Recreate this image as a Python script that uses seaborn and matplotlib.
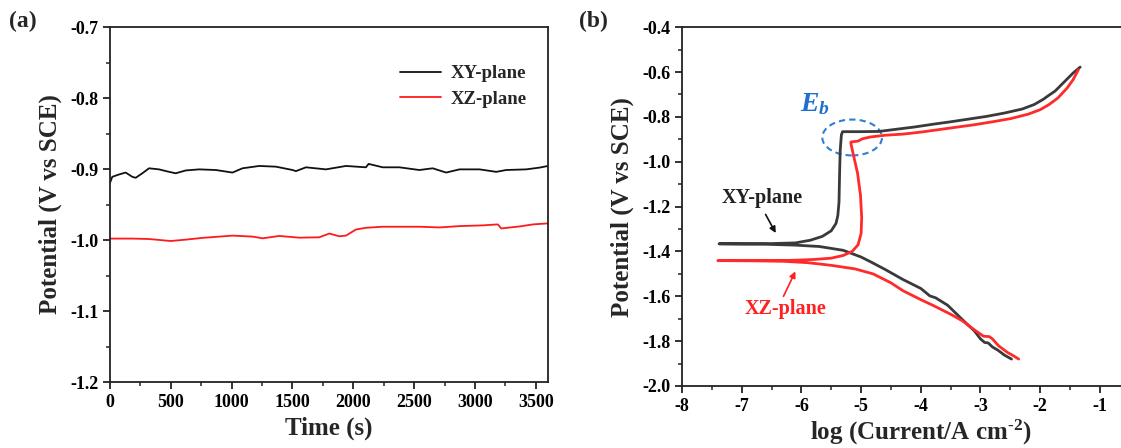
import numpy as np
import pandas as pd
import matplotlib
matplotlib.use("Agg")
import matplotlib.pyplot as plt
from matplotlib.patches import Ellipse
from matplotlib.ticker import MultipleLocator, FixedLocator, FormatStrFormatter
import seaborn as sns

# ---------------- (a) open-circuit potential vs time ----------------
ocp_time_xy = [0, 19, 74, 129, 184, 211, 266, 321, 403, 486, 541, 623, 733, 870, 1007,
               1089, 1227, 1364, 1501, 1528, 1611, 1775, 1940, 2104, 2126, 2242, 2379,
               2543, 2653, 2763, 2873, 3038, 3175, 3257, 3422, 3532, 3600]
ocp_xy = [-0.9196, -0.911, -0.9077, -0.905, -0.911, -0.9124, -0.906, -0.899, -0.9005,
          -0.904, -0.906, -0.902, -0.9005, -0.9014, -0.905, -0.899, -0.8957, -0.8967,
          -0.9014, -0.903, -0.8976, -0.9005, -0.8957, -0.8976, -0.8928, -0.8976, -0.8976,
          -0.9014, -0.899, -0.905, -0.9005, -0.9005, -0.904, -0.9014, -0.9005, -0.898,
          -0.8957]

ocp_time_xz = [0, 184, 321, 499, 623, 760, 1007, 1172, 1254, 1391, 1556, 1720, 1803, 1885,
               1940, 2022, 2104, 2242, 2379, 2543, 2708, 2873, 3065, 3188, 3216, 3367,
               3477, 3600]
ocp_xz = [-0.998, -0.998, -0.9986, -1.0014, -0.9995, -0.997, -0.9938, -0.9952, -0.9976,
          -0.9943, -0.9967, -0.9962, -0.9909, -0.9947, -0.9938, -0.9852, -0.9828, -0.9813,
          -0.9813, -0.9813, -0.9823, -0.9804, -0.9794, -0.978, -0.9837, -0.9809, -0.978,
          -0.9766]

# ---------------- (b) potentiodynamic polarization curves ----------------
logi_xy = [-2.48, -2.60, -2.71, -2.80, -2.87, -2.93, -3.00, -3.10, -3.30, -3.55, -3.75,
           -3.85, -4.00, -4.30, -4.60, -4.85, -5.00, -5.30, -5.70, -6.10, -6.60, -7.00,
           -7.38, -7.00, -6.50, -6.10, -5.85, -5.65, -5.50, -5.42, -5.39, -5.37, -5.36,
           -5.35, -5.33, -5.31, -5.00, -4.70, -4.40, -4.10, -3.80, -3.50, -3.20, -2.90,
           -2.60, -2.30, -2.10, -1.95, -1.85, -1.75, -1.60, -1.45, -1.33]
pot_xy = [-1.880, -1.862, -1.840, -1.826, -1.808, -1.806, -1.790, -1.755, -1.705, -1.640,
          -1.607, -1.598, -1.565, -1.525, -1.480, -1.445, -1.425, -1.395, -1.378, -1.372,
          -1.368, -1.367, -1.366, -1.366, -1.365, -1.362, -1.350, -1.333, -1.308, -1.275,
          -1.240, -1.180, -1.050, -0.950, -0.880, -0.866, -0.866, -0.865, -0.855, -0.845,
          -0.833, -0.822, -0.810, -0.798, -0.783, -0.765, -0.745, -0.722, -0.703, -0.685,
          -0.645, -0.605, -0.578]

logi_xz = [-2.36, -2.45, -2.55, -2.70, -2.80, -2.85, -2.95, -3.10, -3.30, -3.50, -3.80,
           -4.00, -4.30, -4.50, -4.80, -5.10, -5.50, -5.90, -6.30, -6.80, -7.40, -6.80,
           -6.20, -5.80, -5.50, -5.30, -5.15, -5.05, -5.00, -4.99, -5.01, -5.06, -5.12,
           -5.17, -5.17, -5.05, -4.98, -4.85, -4.60, -4.30, -4.00, -3.70, -3.40, -3.10,
           -2.80, -2.50, -2.20, -2.00, -1.85, -1.70, -1.55, -1.45, -1.36]
pot_xz = [-1.880, -1.865, -1.850, -1.820, -1.790, -1.780, -1.778, -1.750, -1.710, -1.680,
          -1.640, -1.615, -1.575, -1.540, -1.500, -1.478, -1.462, -1.450, -1.444, -1.442,
          -1.441, -1.441, -1.440, -1.436, -1.430, -1.418, -1.400, -1.370, -1.320, -1.250,
          -1.150, -1.050, -0.980, -0.920, -0.912, -0.908, -0.898, -0.890, -0.882, -0.877,
          -0.868, -0.857, -0.846, -0.835, -0.822, -0.808, -0.788, -0.768, -0.745, -0.715,
          -0.672, -0.635, -0.590]

series_names = ["XY-plane", "XZ-plane"]
logi_ticks = [-8, -7, -6, -5, -4, -3, -2, -1]

# ---------------- style ----------------
sns.set_style("ticks")
plt.rcParams["font.family"] = ["Liberation Serif", "DejaVu Serif"]
plt.rcParams["font.weight"] = "bold"
plt.rcParams["axes.labelweight"] = "bold"
plt.rcParams["axes.unicode_minus"] = False
plt.rcParams["mathtext.fontset"] = "custom"
plt.rcParams["mathtext.rm"] = "Liberation Serif:bold"
plt.rcParams["mathtext.it"] = "Liberation Serif:italic:bold"
plt.rcParams["mathtext.bf"] = "Liberation Serif:bold"

fig = plt.figure(figsize=(11.21, 4.48), dpi=100)
ax_a = fig.add_axes([0.0981, 0.1473, 0.3907, 0.7924])
# the right part of panel (b) runs past the figure edge
ax_b = fig.add_axes([0.6084, 0.1384, 0.4260, 0.8010])


def style_axes(ax):
    for s in ax.spines.values():
        s.set_linewidth(1.3)
        s.set_color("#222222")
    ax.tick_params(which="major", direction="out", length=5, width=1.3,
                   labelsize=13, top=False, right=False, colors="#222222")
    ax.tick_params(which="minor", direction="out", length=3, width=1.1,
                   top=False, right=False, colors="#222222")
    for lab in ax.get_xticklabels() + ax.get_yticklabels():
        lab.set_fontweight("bold")
        lab.set_color("black")


# ---- panel (a)
df_a = pd.concat([
    pd.DataFrame({"Time": ocp_time_xy, "Potential": ocp_xy, "Sample": series_names[0]}),
    pd.DataFrame({"Time": ocp_time_xz, "Potential": ocp_xz, "Sample": series_names[1]}),
])
sns.lineplot(data=df_a, x="Time", y="Potential", hue="Sample",
             palette=["#111111", "#ff1a1a"], linewidth=1.3, estimator=None,
             sort=False, ax=ax_a)
ax_a.set_xlim(0, 3600)
ax_a.set_ylim(-1.2, -0.7)
ax_a.xaxis.set_major_locator(MultipleLocator(500))
ax_a.xaxis.set_minor_locator(MultipleLocator(250))
ax_a.yaxis.set_major_locator(MultipleLocator(0.1))
ax_a.yaxis.set_minor_locator(MultipleLocator(0.05))
ax_a.yaxis.set_major_formatter(FormatStrFormatter("%.1f"))
ax_a.set_xlabel("Time (s)", fontsize=18, fontweight="bold", labelpad=4)
ax_a.set_ylabel("Potential (V vs SCE)", fontsize=18, fontweight="bold", labelpad=6)
leg = ax_a.legend(loc="upper right", frameon=False, fontsize=13.5, handlelength=2.2,
                  handletextpad=0.5, labelspacing=0.45, bbox_to_anchor=(0.99, 0.94))
for t in leg.get_texts():
    t.set_fontweight("bold")
style_axes(ax_a)

# ---- panel (b)
df_b = pd.concat([
    pd.DataFrame({"logi": logi_xy, "E": pot_xy, "Sample": series_names[0]}),
    pd.DataFrame({"logi": logi_xz, "E": pot_xz, "Sample": series_names[1]}),
])
sns.lineplot(data=df_b, x="logi", y="E", hue="Sample",
             palette=["#3a3a3a", "#ff2a2a"], linewidth=2.0, estimator=None,
             sort=False, legend=False, ax=ax_b)
ax_b.set_xlim(-8, 0)
ax_b.set_ylim(-2.0, -0.4)
ax_b.xaxis.set_major_locator(FixedLocator(logi_ticks))
ax_b.xaxis.set_minor_locator(FixedLocator([t + 0.5 for t in logi_ticks]))
ax_b.yaxis.set_major_locator(MultipleLocator(0.2))
ax_b.yaxis.set_minor_locator(MultipleLocator(0.1))
ax_b.xaxis.set_major_formatter(FormatStrFormatter("%d"))
ax_b.yaxis.set_major_formatter(FormatStrFormatter("%.1f"))
ax_b.set_xlabel(r"log (Current/A cm$^{\text{-2}}$)", fontsize=18, fontweight="bold",
                labelpad=2)
ax_b.set_ylabel("Potential (V vs SCE)", fontsize=18, fontweight="bold", labelpad=6)
style_axes(ax_b)

# breakdown-potential marker
ax_b.add_patch(Ellipse((-5.15, -0.892), 1.0, 0.16, fill=False, edgecolor="#2f7fd0",
                       linestyle=(0, (3, 2)), linewidth=1.5))
ax_b.text(-5.78, -0.745, r"$E_b$", color="#1f6fcf", fontsize=20, ha="center",
          va="center")

ax_b.text(-6.66, -1.164, "XY-plane", fontsize=14.5, fontweight="bold", color="#222222",
          ha="center", va="center")
ax_b.annotate("", xy=(-6.43, -1.318), xytext=(-6.60, -1.235),
              arrowprops=dict(arrowstyle="-|>", color="#111111", lw=1.2,
                              mutation_scale=9, shrinkA=0, shrinkB=0))
ax_b.text(-6.26, -1.658, "XZ-plane", fontsize=14.5, fontweight="bold", color="#ff2020",
          ha="center", va="center")
ax_b.annotate("", xy=(-6.10, -1.489), xytext=(-6.30, -1.600),
              arrowprops=dict(arrowstyle="-|>", color="#ff2020", lw=1.2,
                              mutation_scale=9, shrinkA=0, shrinkB=0))

# panel letters
fig.text(0.0205, 0.951, "(a)", fontsize=17, fontweight="bold", ha="center", va="center")
fig.text(0.529, 0.953, "(b)", fontsize=17, fontweight="bold", ha="center", va="center")

fig.savefig("out.png", dpi=100)
